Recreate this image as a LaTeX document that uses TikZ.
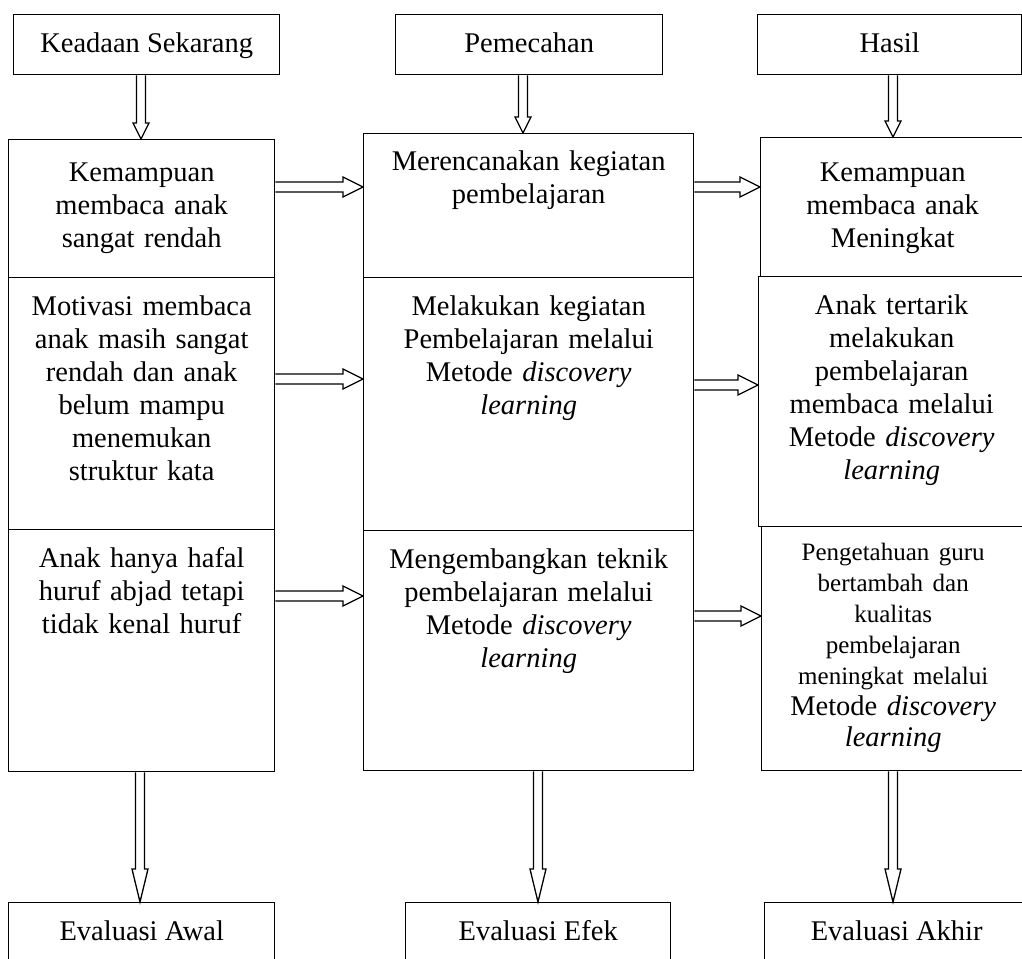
\documentclass[tikz,border=0pt]{standalone}
\usepackage{fontspec}
\setmainfont{Liberation Serif}
\usetikzlibrary{calc}
\newcommand{\boxfont}{\fontsize{28.5}{33}\selectfont}
\newcommand{\smallboxfont}{\fontsize{25}{31}\selectfont}
\tikzset{
  cell/.style={draw, line width=1.4pt, anchor=north west, inner sep=0pt},
  title/.style={cell, minimum height=60, font=\boxfont, text height=20pt, text depth=5pt},
  lbl/.style={anchor=north, align=center, inner sep=0pt, font=\boxfont, text width=#1},
  lbl/.default=250,
  blk/.style={line width=1.3pt, line join=miter}
}
% block arrow to the right: left node, right node, y
\newcommand{\harrow}[3]{
  \coordinate (hs) at (#1.east |- 0,#3);
  \coordinate (he) at (#2.west |- 0,#3);
  \draw[blk] ($(hs)+(0,-5)$) -- ($(he)+(-20,-5)$) -- ($(he)+(-20,-10)$) -- (he)
    -- ($(he)+(-20,10)$) -- ($(he)+(-20,5)$) -- ($(hs)+(0,5)$);
}
% block arrow down: x, upper node, lower node, head length
\newcommand{\varrow}[4]{
  \coordinate (vs) at (#2.south -| #1,0);
  \coordinate (ve) at (#3.north -| #1,0);
  \draw[blk] ($(vs)+(-4.5,0)$) -- ($(ve)+(-4.5,-#4)$) -- ($(ve)+(-8,-#4)$) -- (ve)
    -- ($(ve)+(8,-#4)$) -- ($(ve)+(4.5,-#4)$) -- ($(vs)+(4.5,0)$);
}
\begin{document}
\begin{tikzpicture}[x=1pt, y=-1pt]
\useasboundingbox (0,0) rectangle (1022,958);
% headings
\node[title, minimum width=266] (keadaan) at (13,14) {Keadaan Sekarang};
\node[title, minimum width=267] (pemecahan) at (395,14) {Pemecahan};
\node[title, minimum width=264] (hasil) at (757,14) {Hasil};
% left column
\node[cell, minimum width=266, minimum height=138] (l1) at (8,139) {};
\node[cell, minimum width=266, minimum height=252] (l2) at (8,277) {};
\node[cell, minimum width=266, minimum height=242] (l3) at (8,529) {};
\node[lbl=256] (tl1) at ([yshift=-23.5pt]l1.north) {Kemampuan\\membaca anak\\sangat rendah};
\node[lbl=256] (tl2) at ([yshift=-18.5pt]l2.north) {Motivasi membaca\\anak masih sangat\\rendah dan anak\\belum mampu\\menemukan\\struktur kata};
\node[lbl=256] (tl3) at ([yshift=-18.5pt]l3.north) {Anak hanya hafal\\huruf abjad tetapi\\tidak kenal huruf};
% middle column
\node[cell, minimum width=330, minimum height=144] (m1) at (363,133) {};
\node[cell, minimum width=330, minimum height=253] (m2) at (363,277) {};
\node[cell, minimum width=330, minimum height=240] (m3) at (363,530) {};
\node[lbl=320] (tm1) at ([yshift=-17.5pt]m1.north) {Merencanakan kegiatan\\pembelajaran};
\node[lbl=320] (tm2) at ([yshift=-18.5pt]m2.north) {Melakukan kegiatan\\Pembelajaran melalui\\Metode \textit{discovery}\\\textit{learning}};
\node[lbl=320] (tm3) at ([yshift=-18.5pt]m3.north) {Mengembangkan teknik\\pembelajaran melalui\\Metode \textit{discovery}\\\textit{learning}};
% right column
\node[cell, minimum width=264, minimum height=139] (r1) at (760,137) {};
\node[cell, minimum width=266, minimum height=250] (r2) at (758,276) {};
\node[cell, minimum width=263, minimum height=244] (r3) at (761,526) {};
\node[lbl=254] (tr1) at ([yshift=-25.5pt]r1.north) {Kemampuan\\membaca anak\\Meningkat};
\node[lbl=254] (tr2) at ([yshift=-18.5pt]r2.north) {Anak tertarik\\melakukan\\pembelajaran\\membaca melalui\\Metode \textit{discovery}\\\textit{learning}};
\node[lbl=254, font=\fontsize{28.5}{31}\selectfont] (tr3) at ([yshift=-17pt]r3.north) {{\smallboxfont Pengetahuan guru\\bertambah dan\\kualitas\\pembelajaran\\meningkat melalui}\\Metode \textit{discovery}\\\textit{learning}};
% evaluations
\node[title, minimum width=266] (awal) at (8,902) {Evaluasi Awal};
\node[title, minimum width=265] (efek) at (405,902) {Evaluasi Efek};
\node[title, minimum width=264] (akhir) at (764,902) {Evaluasi Akhir};
% arrows
\varrow{141}{keadaan}{l1}{16}
\varrow{523}{pemecahan}{m1}{16}
\varrow{893}{hasil}{r1}{16}
\harrow{l1}{m1}{187}
\harrow{m1}{r1}{187}
\harrow{l2}{m2}{379}
\harrow{m2}{r2}{385}
\harrow{l3}{m3}{596}
\harrow{m3}{r3}{616}
\varrow{140}{l3}{awal}{33}
\varrow{538}{m3}{efek}{33}
\varrow{893}{r3}{akhir}{33}
\end{tikzpicture}
\end{document}
